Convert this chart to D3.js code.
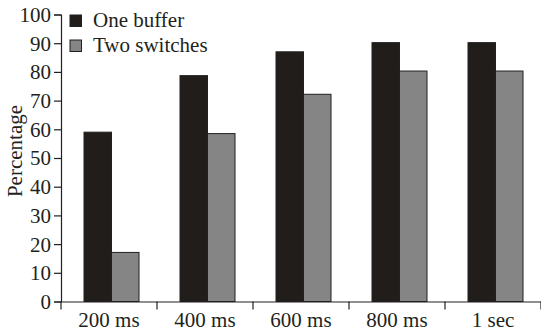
<!DOCTYPE html>
<html><head><meta charset="utf-8">
<script src="https://cdn.jsdelivr.net/npm/d3@7"></script>
<style>body{margin:0;background:#fff}svg{display:block}text{font-family:"Liberation Serif","Times New Roman",serif;fill:#231f20}</style>
</head><body>
<svg id="c" width="541" height="333"></svg>
<script>
const categories = ["200 ms","400 ms","600 ms","800 ms","1 sec"];
const seriesNames = ["One buffer","Two switches"];
const oneBuffer = [59, 78.7, 87, 90.2, 90.2];
const twoSwitches = [17.1, 58.5, 72.2, 80.3, 80.3];
const yTicks = [0,10,20,30,40,50,60,70,80,90,100];
const colors = ["#211d1a","#858585"];

const FS = "21px";
const svg = d3.select("#c");
const m = {l:61, r:0, t:14.5, b:31.5};
const W = 541, H = 333;
const x = d3.scaleBand().domain(categories).range([m.l, W - m.r]).paddingInner(0).paddingOuter(0);
const y = d3.scaleLinear().domain([0,100]).range([H - m.b, m.t]);
const x1 = d3.scaleBand().domain(seriesNames).range([23, 78]).paddingInner(0);
const series = [oneBuffer, twoSwitches];

// bars
seriesNames.forEach((s, si) => {
  svg.append("g").selectAll("rect").data(categories).join("rect")
    .attr("x", d => x(d) + x1(s))
    .attr("y", (d,i) => y(series[si][i]))
    .attr("width", x1.bandwidth())
    .attr("height", (d,i) => y(0) - y(series[si][i]))
    .attr("fill", colors[si])
    .attr("stroke", "#231f20").attr("stroke-width", 1);
});

// y axis
const ya = svg.append("g").attr("transform", `translate(${m.l},0)`)
  .call(d3.axisLeft(y).tickValues(yTicks).tickSize(7).tickPadding(3));
ya.select(".domain").attr("stroke","#231f20").attr("stroke-width",1.2);
ya.selectAll(".tick line").attr("stroke","#231f20").attr("stroke-width",1.2);
ya.selectAll(".tick text").style("font-size",FS).style("font-family",'"Liberation Serif",serif')
  .attr("fill","#231f20").attr("dy","0.33em").attr("x",-10);

// x axis
const xa = svg.append("g").attr("transform", `translate(0,${y(0)})`)
  .call(d3.axisBottom(x).tickValues([]).tickSizeOuter(0));
xa.select(".domain").attr("stroke","#231f20").attr("stroke-width",1.2);
const xTickPos = categories.map(c => x(c)).concat([x(categories[categories.length-1]) + x.bandwidth()]);
xa.selectAll("line.sep").data(xTickPos).join("line").attr("class","sep")
  .attr("x1", d => d).attr("x2", d => d).attr("y1", 0).attr("y2", 8)
  .attr("stroke","#231f20").attr("stroke-width",1.2);
xa.selectAll("text.lab").data(categories).join("text").attr("class","lab")
  .attr("x", d => x(d) + x.bandwidth()/2)
  .attr("y", 25.5)
  .attr("text-anchor","middle").style("font-size",FS).text(d => d);

// y label
svg.append("text").attr("transform","translate(22,151) rotate(-90)")
  .attr("text-anchor","middle").style("font-size",FS).text("Percentage");

// legend
const lg = svg.append("g");
seriesNames.forEach((s, i) => {
  lg.append("rect").attr("x", 70).attr("y", 15 + i*25).attr("width", 11.5).attr("height", 11.5)
    .attr("fill", colors[i]).attr("stroke","#231f20").attr("stroke-width",1);
  lg.append("text").attr("x", 93).attr("y", 26.5 + i*25)
    .style("font-size",FS).text(s);
});
</script>
</body></html>
